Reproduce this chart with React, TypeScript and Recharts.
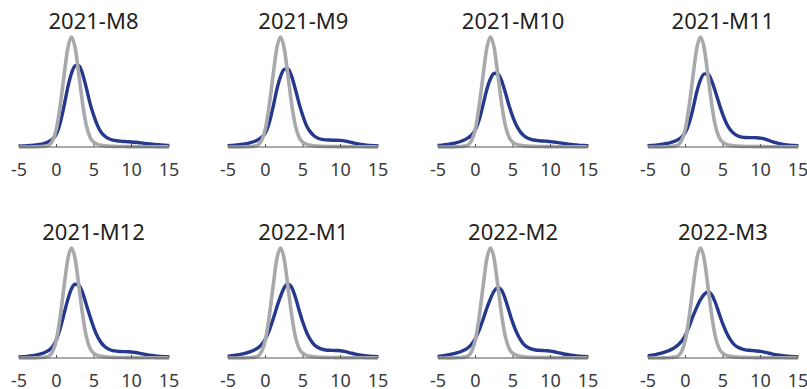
import { LineChart, Line, XAxis, YAxis } from "recharts";

const xs = [
  -5, -4.5, -4, -3.5, -3, -2.5, -2, -1.5, -1, -0.5, 0, 0.5, 1, 1.5, 2, 2.5, 3, 3.5, 4, 4.5, 5, 5.5, 6, 6.5, 7, 7.5, 8,
  8.5, 9, 9.5, 10, 10.5, 11, 11.5, 12, 12.5, 13, 13.5, 14, 14.5, 15,
];

// reference density (same in every panel)
const gray = [
  0, 0, 0, 0, 0.001, 0.002, 0.004, 0.008, 0.019, 0.062, 0.17, 0.38, 0.646, 0.897, 1.0, 0.897, 0.646, 0.385, 0.19,
  0.085, 0.042, 0.024, 0.015, 0.01, 0.008, 0.006, 0.005, 0.004, 0.004, 0.003, 0.003, 0.003, 0.002, 0.002, 0.002,
  0.002, 0.002, 0.001, 0.001, 0.001, 0.001,
];

const m8 = [
  0.008, 0.009, 0.011, 0.013, 0.016, 0.02, 0.026, 0.035, 0.05, 0.075, 0.12, 0.22, 0.37, 0.54, 0.67, 0.74, 0.74, 0.66,
  0.53, 0.39, 0.28, 0.19, 0.13, 0.095, 0.075, 0.063, 0.057, 0.053, 0.05, 0.048, 0.046, 0.043, 0.039, 0.035, 0.031,
  0.027, 0.024, 0.021, 0.018, 0.016, 0.014,
];
const m9 = [
  0.012, 0.014, 0.017, 0.02, 0.025, 0.031, 0.039, 0.05, 0.066, 0.09, 0.13, 0.22, 0.36, 0.52, 0.64, 0.705, 0.71, 0.64,
  0.52, 0.39, 0.28, 0.19, 0.135, 0.1, 0.08, 0.07, 0.065, 0.063, 0.062, 0.062, 0.06, 0.056, 0.049, 0.041, 0.033, 0.026,
  0.021, 0.017, 0.014, 0.012, 0.01,
];
const m10 = [
  0.014, 0.017, 0.021, 0.026, 0.032, 0.04, 0.05, 0.064, 0.083, 0.11, 0.16, 0.25, 0.38, 0.52, 0.62, 0.67, 0.665, 0.6,
  0.49, 0.37, 0.27, 0.19, 0.135, 0.1, 0.08, 0.068, 0.061, 0.057, 0.054, 0.052, 0.049, 0.045, 0.04, 0.035, 0.03, 0.025,
  0.021, 0.018, 0.015, 0.013, 0.011,
];
const m11 = [
  0.012, 0.014, 0.017, 0.021, 0.026, 0.032, 0.04, 0.051, 0.067, 0.092, 0.135, 0.22, 0.35, 0.5, 0.61, 0.665, 0.665, 0.6,
  0.5, 0.39, 0.29, 0.21, 0.155, 0.12, 0.1, 0.09, 0.086, 0.085, 0.085, 0.084, 0.081, 0.074, 0.063, 0.05, 0.039, 0.03,
  0.024, 0.019, 0.016, 0.013, 0.011,
];
const m12 = [
  0.01, 0.012, 0.015, 0.019, 0.024, 0.031, 0.04, 0.053, 0.072, 0.105, 0.17, 0.27, 0.4, 0.53, 0.63, 0.67, 0.66, 0.59,
  0.48, 0.37, 0.27, 0.19, 0.135, 0.1, 0.08, 0.068, 0.062, 0.059, 0.058, 0.057, 0.055, 0.05, 0.044, 0.037, 0.031, 0.025,
  0.021, 0.017, 0.014, 0.012, 0.01,
];
const y22m1 = [
  0.016, 0.02, 0.025, 0.031, 0.038, 0.047, 0.058, 0.072, 0.092, 0.125, 0.175, 0.25, 0.35, 0.46, 0.56, 0.64, 0.67, 0.64,
  0.55, 0.43, 0.32, 0.23, 0.165, 0.12, 0.095, 0.08, 0.073, 0.07, 0.069, 0.068, 0.066, 0.06, 0.052, 0.043, 0.035, 0.028,
  0.023, 0.019, 0.016, 0.013, 0.011,
];
const y22m2 = [
  0.015, 0.019, 0.024, 0.03, 0.037, 0.046, 0.057, 0.072, 0.093, 0.127, 0.18, 0.255, 0.35, 0.45, 0.54, 0.61, 0.64,
  0.615, 0.53, 0.42, 0.315, 0.23, 0.165, 0.12, 0.095, 0.08, 0.073, 0.07, 0.068, 0.066, 0.063, 0.057, 0.049, 0.041,
  0.034, 0.028, 0.023, 0.019, 0.016, 0.013, 0.011,
];
const y22m3 = [
  0.02, 0.025, 0.031, 0.039, 0.048, 0.06, 0.074, 0.092, 0.118, 0.155, 0.21, 0.29, 0.38, 0.46, 0.53, 0.58, 0.6, 0.575,
  0.5, 0.4, 0.305, 0.225, 0.165, 0.122, 0.097, 0.082, 0.074, 0.07, 0.067, 0.064, 0.06, 0.054, 0.046, 0.038, 0.031,
  0.025, 0.02, 0.017, 0.014, 0.012, 0.01,
];

const titles = ["2021-M8", "2021-M9", "2021-M10", "2021-M11", "2021-M12", "2022-M1", "2022-M2", "2022-M3"];
const blues = [m8, m9, m10, m11, m12, y22m1, y22m2, y22m3];
const xTicks = [-5, 0, 5, 10, 15];

const FONT = "'Noto Sans', sans-serif";

function Tick(props: any) {
  const { x, y, payload } = props;
  return (
    <g>
      <line x1={x} x2={x} y1={y} y2={y - 3} stroke="#555" strokeWidth={1} />
      <text x={x} y={y + 16} dy="0.71em" textAnchor="middle" fontSize={18} fill="#3a3a3a" fontFamily={FONT}>
        {payload.value}
      </text>
    </g>
  );
}

function Panel({ idx }: { idx: number }) {
  const col = idx % 4;
  const row = Math.floor(idx / 4);
  const data = xs.map((x, i) => ({ x, gray: gray[i], blue: blues[idx][i] }));
  return (
    <div style={{ position: "absolute", left: 8.5 + col * 209.8, top: row * 211, width: 170, height: 195 }}>
      <div
        style={{
          position: "absolute",
          top: 9,
          left: 0,
          width: 170,
          textAlign: "center",
          fontFamily: FONT,
          fontSize: 22,
          lineHeight: "22px",
          color: "#231f20",
          zIndex: 1,
        }}
      >
        {titles[idx]}
      </div>
      <LineChart width={170} height={195} data={data} margin={{ top: 37, right: 10, left: 10, bottom: 18 }}>
        <XAxis
          dataKey="x"
          type="number"
          domain={[-5, 15]}
          ticks={xTicks}
          height={30}
          stroke="#555"
          tickLine={false}
          tickSize={0}
          tickMargin={0}
          tick={<Tick />}
          interval={0}
        />
        <YAxis hide domain={[0, 1]} />
        <Line dataKey="blue" type="monotone" stroke="#25398c" strokeWidth={3.4} dot={false} isAnimationActive={false} />
        <Line dataKey="gray" type="monotone" stroke="#a7a9ac" strokeWidth={3.6} dot={false} isAnimationActive={false} />
      </LineChart>
    </div>
  );
}

export default function App() {
  return (
    <div
      style={{ position: "absolute", left: 0, top: 0, width: 807, height: 389, background: "#fff", overflow: "hidden" }}
    >
      {titles.map((_, i) => (
        <Panel key={i} idx={i} />
      ))}
    </div>
  );
}
